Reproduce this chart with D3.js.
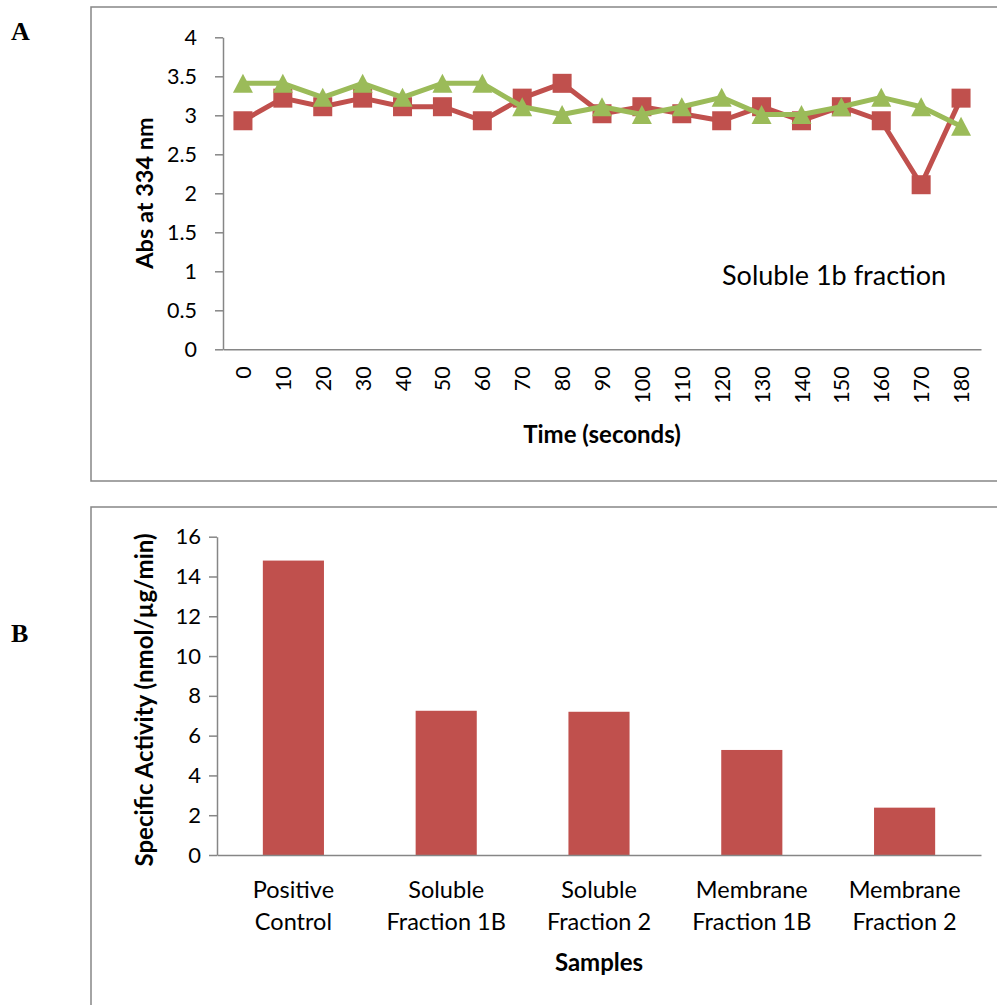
<!DOCTYPE html>
<html>
<head>
<meta charset="utf-8">
<script src="https://cdn.jsdelivr.net/npm/d3@7"></script>
<style>
body{margin:0;background:#fff;}
text{font-family:Lato,"Open Sans",sans-serif;fill:#000;}
</style>
</head>
<body>
<svg id="chart" width="997" height="1005"></svg>
<script>
// panel A values
var timeLabels = ["0","10","20","30","40","50","60","70","80","90","100","110","120","130","140","150","160","170","180"];
var redSeries = [2.93,3.22,3.11,3.22,3.11,3.11,2.93,3.22,3.41,3.02,3.11,3.02,2.93,3.11,2.93,3.11,2.93,2.11,3.22];
var greenSeries = [3.41,3.41,3.23,3.41,3.23,3.41,3.41,3.11,3.01,3.11,3.01,3.11,3.23,3.01,3.01,3.11,3.23,3.11,2.86];
var yTicksA = [0,0.5,1,1.5,2,2.5,3,3.5,4];

// panel B values
var sampleNames = ["Positive Control","Soluble Fraction 1B","Soluble Fraction 2","Membrane Fraction 1B","Membrane Fraction 2"];
var sampleLines = [["Positive","Control"],["Soluble","Fraction 1B"],["Soluble","Fraction 2"],["Membrane","Fraction 1B"],["Membrane","Fraction 2"]];
var activity = [14.8,7.25,7.2,5.28,2.38];
var yTicksB = [0,2,4,6,8,10,12,14,16];

var red = "#C0504D", green = "#9BBB59", grey = "#868686";
var svg = d3.select("#chart");

// panel frames
svg.append("rect").attr("x",91).attr("y",7).attr("width",1000).attr("height",474)
    .attr("fill","none").attr("stroke",grey).attr("stroke-width",1.5);
svg.append("rect").attr("x",91).attr("y",507).attr("width",1000).attr("height",600)
    .attr("fill","none").attr("stroke",grey).attr("stroke-width",1.5);

svg.append("text").attr("x",11).attr("y",40).text("A")
    .style("font-family","'Liberation Serif','DejaVu Serif',serif").style("font-weight","bold").style("font-size","26px");
svg.append("text").attr("x",11).attr("y",642).text("B")
    .style("font-family","'Liberation Serif','DejaVu Serif',serif").style("font-weight","bold").style("font-size","26px");

function styleAxis(g, size){
    g.selectAll("path,line").attr("stroke",grey).attr("stroke-width",1.5);
    g.selectAll("text").style("font-size",(size || 21) + "px").style("font-family","Lato,sans-serif");
}

// ---------- panel A ----------
var xA = d3.scalePoint().domain(timeLabels).range([223,981]).padding(0.5);
var yA = d3.scaleLinear().domain([0,4]).range([349.3,37.3]);

svg.append("g").attr("transform","translate(223,0)")
    .call(d3.axisLeft(yA).tickValues(yTicksA).tickSize(8).tickSizeOuter(0).tickPadding(18).tickFormat(d3.format("")))
    .call(styleAxis, 21.5);

var xAxisA = svg.append("g").attr("transform","translate(0,349.3)")
    .call(d3.axisBottom(xA).tickSize(0).tickSizeOuter(0))
    .call(styleAxis, 21.5);
xAxisA.selectAll("text")
    .attr("transform","rotate(-90)")
    .attr("text-anchor","end")
    .attr("x",-17).attr("y",0).attr("dy","0.35em");

svg.append("text").attr("x",602).attr("y",443).attr("text-anchor","middle")
    .style("font-weight","bold").style("font-size","24px").text("Time (seconds)");
svg.append("text").attr("transform","translate(153,193) rotate(-90)").attr("text-anchor","middle")
    .style("font-weight","bold").style("font-size","23.5px").text("Abs at 334 nm");

var line = d3.line().x((d,i) => xA(timeLabels[i])).y(d => yA(d));

svg.append("path").datum(redSeries).attr("d",line)
    .attr("fill","none").attr("stroke",red).attr("stroke-width",5).attr("stroke-linejoin","round");
svg.selectAll(".sq").data(redSeries).enter().append("rect").attr("class","sq")
    .attr("x",(d,i) => xA(timeLabels[i]) - 9.5).attr("y",d => yA(d) - 9.5)
    .attr("width",19).attr("height",19).attr("fill",red);

svg.append("path").datum(greenSeries).attr("d",line)
    .attr("fill","none").attr("stroke",green).attr("stroke-width",5).attr("stroke-linejoin","round");
svg.selectAll(".tri").data(greenSeries).enter().append("path").attr("class","tri")
    .attr("d","M0,-9.5L10,9.5L-10,9.5Z")
    .attr("transform",(d,i) => "translate(" + xA(timeLabels[i]) + "," + yA(d) + ")")
    .attr("fill",green);

svg.append("text").attr("x",722).attr("y",285).style("font-size","27px").text("Soluble 1b fraction");

// ---------- panel B ----------
var xB = d3.scaleBand().domain(sampleNames).range([217,981]).paddingInner(0.6).paddingOuter(0.3);
var yB = d3.scaleLinear().domain([0,16]).range([855,536.7]);

svg.append("g").attr("transform","translate(217,0)")
    .call(d3.axisLeft(yB).tickValues(yTicksB).tickSize(8).tickSizeOuter(0).tickPadding(8))
    .call(styleAxis, 22);

svg.selectAll(".bar").data(activity).enter().append("rect").attr("class","bar")
    .attr("x",(d,i) => xB(sampleNames[i])).attr("width",xB.bandwidth())
    .attr("y",d => yB(d)).attr("height",d => yB(0) - yB(d))
    .attr("fill",red);

var xAxisB = svg.append("g").attr("transform","translate(0,855)")
    .call(d3.axisBottom(xB).tickSize(0).tickSizeOuter(0).tickFormat(""))
    .call(styleAxis, 23.5);
xAxisB.selectAll(".tick text").each(function(d,i){
    var t = d3.select(this).attr("y",0).attr("dy",null).attr("text-anchor","middle");
    sampleLines[i].forEach(function(s,j){
        t.append("tspan").attr("x",0).attr("y",43 + j*32).text(s);
    });
});

svg.append("text").attr("x",599).attr("y",971).attr("text-anchor","middle")
    .style("font-weight","bold").style("font-size","24px").text("Samples");
svg.append("text").attr("transform","translate(153,700) rotate(-90)").attr("text-anchor","middle")
    .style("font-weight","bold").style("font-size","24px").text("Specific Activity (nmol/µg/min)");
</script>
</body>
</html>
